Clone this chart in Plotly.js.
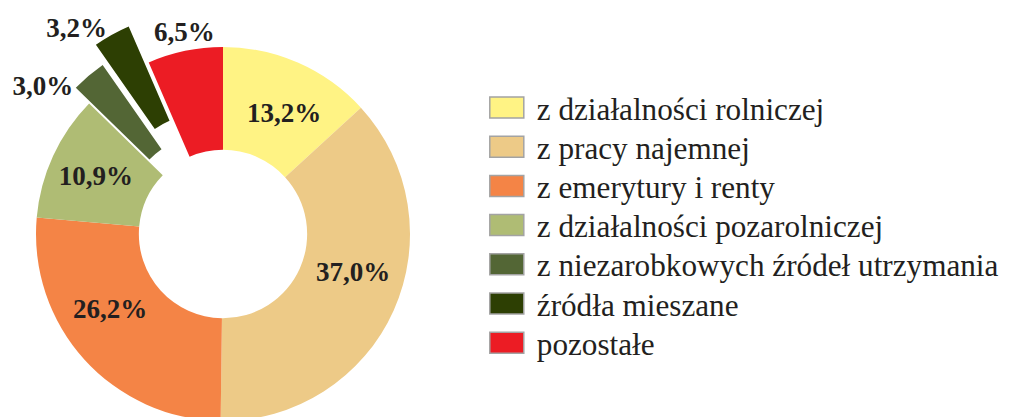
<!DOCTYPE html>
<html>
<head>
<meta charset="utf-8">
<script src="https://cdn.plot.ly/plotly-3.0.1.min.js"></script>
<style>
html,body{margin:0;padding:0;width:1017px;height:417px;overflow:hidden;background:#fff;}
#chart{position:absolute;left:-10px;top:0;width:1027px;height:470px;}
</style>
</head>
<body>
<div id="chart"></div>
<script>
const categories = [
  "z działalności rolniczej",
  "z pracy najemnej",
  "z emerytury i renty",
  "z działalności pozarolniczej",
  "z niezarobkowych źródeł utrzymania",
  "źródła mieszane",
  "pozostałe"
];
const shares = [13.2, 37.0, 26.2, 10.9, 3.0, 3.2, 6.5];
const pulls = [0, 0, 0, 0, 0.11, 0.22, 0];
const colors = ["#FFF384", "#EDCA87", "#F48446", "#AFBC74", "#536635", "#2D3F03", "#EC1C24"];
const labelPlacement = ["inside", "inside", "inside", "inside", "outside", "outside", "outside"];

// layout/style settings (not data)
const W = 1027, H = 470;
const GEO = {cx: 233, cy: 234, r: 187};
// per-label fine placement: angular nudge (deg) and radial offset (fraction of r)
const LABEL_ROT = [3, -8, 8.5, 0, -5, 0, 11.5];
const LABEL_RAD = [0, 0, 0, 0, -0.04, -0.03, 0];
const LEGEND_STEP = 39.2;

// domain that gives the pie centre GEO.cx/cy and radius GEO.r for a given max pull
function domainFor(maxPull) {
  const half = GEO.r * (1 + maxPull);
  return {
    x: [(GEO.cx - half) / W, (GEO.cx + half) / W],
    y: [1 - (GEO.cy + half) / H, 1 - (GEO.cy - half) / H]
  };
}

const SERIF = "Liberation Serif, Times New Roman, serif";
const labelFont = {family: SERIF, size: 27, color: "#231F20", weight: "bold"};

function fmt(v) { return v.toFixed(1).replace(".", ",") + "%"; }

// base trace: the slices
const base = {
  type: "pie",
  labels: categories,
  values: shares,
  pull: pulls,
  sort: false,
  direction: "clockwise",
  rotation: 0,
  hole: 0.45,
  marker: {colors: colors, line: {width: 0}},
  textinfo: "none",
  domain: domainFor(Math.max.apply(null, pulls)),
  hoverinfo: "label+value"
};

// one transparent layer per value label, so labels are not pushed apart
const labelLayers = shares.map((v, i) => {
  const p = Math.max(0, pulls[i] + LABEL_RAD[i]);
  return {
    type: "pie",
    labels: categories,
    values: shares,
    pull: p,
    sort: false,
    direction: "clockwise",
    rotation: LABEL_ROT[i],
    hole: 0.45,
    marker: {colors: colors.map(() => "rgba(0,0,0,0)"), line: {width: 0}},
    text: shares.map((w, j) => j === i ? fmt(w) : ""),
    textinfo: "text",
    textposition: shares.map((w, j) => j === i ? labelPlacement[i] : "none"),
    insidetextorientation: "horizontal",
    textfont: labelFont,
    domain: domainFor(p),
    showlegend: false,
    hoverinfo: "skip"
  };
});

const layout = {
  width: W,
  height: H,
  margin: {l: 0, r: 0, t: 0, b: 0},
  paper_bgcolor: "#ffffff",
  showlegend: true,
  legend: {
    x: 0.4740, xanchor: "left",
    y: 0.8283, yanchor: "top",
    itemwidth: 50,
    font: {family: SERIF, size: 31.2, color: "#231F20"},
    bgcolor: "rgba(0,0,0,0)"
  }
};

Plotly.newPlot("chart", [base].concat(labelLayers), layout, {staticPlot: true}).then(function () {
  document.querySelectorAll(".legendpoints path").forEach(function (p) {
    p.setAttribute("d", "M17,10.5H-17V-10.5H17Z");
    p.style.stroke = "#A3A3A3";
    p.style.strokeWidth = "1.5px";
  });
  const items = document.querySelectorAll(".legend .traces");
  if (items.length) {
    const m = /translate\(\s*([-\d.]+)[ ,]+([-\d.]+)/.exec(items[0].getAttribute("transform") || "");
    if (m) {
      const x0 = parseFloat(m[1]), y0 = parseFloat(m[2]);
      items.forEach(function (g, i) {
        g.setAttribute("transform", "translate(" + x0 + "," + (y0 + i * LEGEND_STEP) + ")");
      });
    }
  }
});
</script>
</body>
</html>
